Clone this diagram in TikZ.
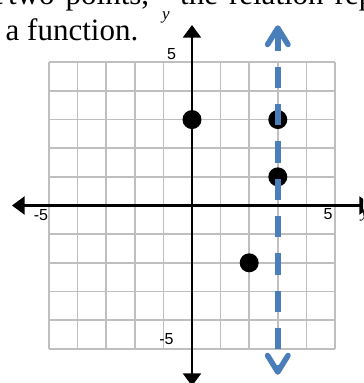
\documentclass[tikz,border=0pt]{standalone}
\usepackage{fontspec}
\setmainfont{Liberation Serif}
\newfontfamily\numfont{Liberation Sans}
\usetikzlibrary{arrows.meta}
\definecolor{gridgray}{RGB}{191,191,191}
\definecolor{lineblue}{RGB}{74,126,187}
\newcommand\widewords{\spaceskip=11pt\relax}
\tikzset{
  gridline/.style={draw=gridgray, line width=1.6pt},
  axis/.style={draw=black, line width=2.5pt, {Triangle[length=12.7pt,width=18pt]}-{Triangle[length=12.7pt,width=18pt]}},
  numlbl/.style={inner sep=0pt, font=\numfont\fontsize{16}{18}\selectfont},
  axlbl/.style={inner sep=0pt, font=\itshape\fontsize{17}{19}\selectfont},
  bodytext/.style={inner sep=0pt, anchor=base west, font=\fontsize{31}{37}\selectfont},
  ptdot/.style={fill=black},
  vline/.style={draw=lineblue, line width=5.5pt, dash pattern=on 21.5pt off 15.8pt},
  chevron/.style={draw=lineblue, line width=5.5pt, line cap=round, line join=round}
}
\begin{document}
\begin{tikzpicture}[x=28.6pt, y=28.65pt]
\useasboundingbox (-6.713,7.173) rectangle (5.979,-6.195);
\clip (-6.713,7.173) rectangle (5.979,-6.195);
% text
\node[bodytext, anchor=base east] (line1a) at (-6.608,7.016) {at};
\node[bodytext] (line1b) at (-6.433,7.016) {\widewords two points,};
\node[bodytext] (line1c) at (-0.420,7.016) {\widewords the relation represented};
\node[bodytext] (line2) at (-6.521,5.776) {a function.};
% grid
\foreach \i in {-5,...,5} {
  \draw[gridline] (\i,-5) -- (\i,5);
  \draw[gridline] (-5,\i) -- (5,\i);
}
% axes
\coordinate (xl) at (-6.294,0);
\coordinate (xr) at (6.294,0);
\coordinate (yt) at (0,6.30);
\coordinate (yb) at (0,-6.30);
\draw[axis] (xl) -- (xr);
\draw[axis] (yb) -- (yt);
% labels
\node[axlbl] (ylab) at (-0.909,6.562) {y};
\node[axlbl] (xlab) at (6.049,-0.332) {y};
\node[numlbl] (ytop) at (-0.717,5.288) {5};
\node[numlbl] (xleft) at (-5.280,-0.349) {-5};
\node[numlbl] (xright) at (4.755,-0.314) {5};
\node[numlbl] (ybot) at (-0.892,-4.677) {-5};
% points
\fill[ptdot] (0,3) circle[radius=9.5pt];
\fill[ptdot] (3,3) circle[radius=9.5pt];
\fill[ptdot] (3,1) circle[radius=9.5pt];
\fill[ptdot] (2,-2) circle[radius=9.5pt];
% vertical line test
\coordinate (vt) at (3,6.147);
\coordinate (vb) at (3,-5.812);
\draw[vline] (vt) -- (vb);
\coordinate (ttip) at (3,6.195);
\coordinate (btip) at (3,-5.812);
\draw[chevron] (2.643,5.62) -- (ttip) -- (3.357,5.62);
\draw[chevron] (2.643,-5.236) -- (btip) -- (3.357,-5.236);
\end{tikzpicture}
\end{document}
